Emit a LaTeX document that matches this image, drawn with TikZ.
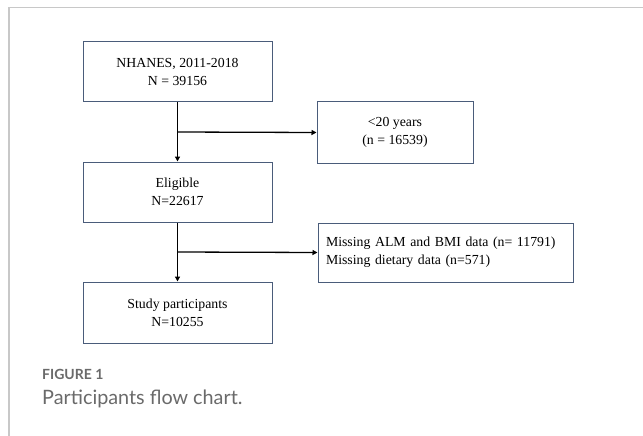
\documentclass[tikz,border=0pt]{standalone}
\usepackage{fontspec}
\setmainfont{Liberation Serif}
\newfontfamily\capfont{Lato}
\usetikzlibrary{arrows.meta}
\definecolor{boxline}{HTML}{4A5C7A}
\definecolor{framegray}{HTML}{C8C8C8}
\definecolor{capgray}{HTML}{6A6A6A}
\tikzset{
  flowbox/.style={draw=boxline, line width=1pt, rectangle, align=center, inner sep=0pt,
    font=\fontsize{13.8}{18}\selectfont, text=black},
  conn/.style={line width=1.3pt, -{Triangle[length=5pt,width=5pt]}},
}
\begin{document}
\begin{tikzpicture}[x=1pt,y=-1pt]
\useasboundingbox (0,0) rectangle (643,436);
\fill[white] (0,0) rectangle (643,436);
% frame
\draw[framegray, line width=1.5pt] (9,436) -- (9,7.5) -- (643,7.5);
% boxes
\node[flowbox, minimum width=189pt, minimum height=60pt] (b1) at (177.5,72) {NHANES, 2011-2018\\N = 39156};
\node[flowbox, minimum width=156pt, minimum height=61pt] (b2) at (395,132.5) {<20 years\\(n = 16539)};
\node[flowbox, minimum width=189pt, minimum height=60pt] (b3) at (177.5,192) {Eligible\\N=22617};
\node[flowbox, minimum width=255pt, minimum height=59pt, align=left, text width=239pt, inner xsep=8pt] (b4) at (445.5,252.5) {Missing ALM and BMI data (n= 11791)\\Missing dietary data (n=571)};
\node[flowbox, minimum width=189pt, minimum height=61pt] (b5) at (177.5,312.5) {Study participants\\N=10255};
% connectors
\coordinate (j1) at (177.5,132);
\coordinate (j2) at (177.5,252);
\draw[conn] (b1.south) -- (b3.north);
\draw[conn] (j1) -- (b2.west);
\draw[conn] (b3.south) -- (b5.north);
\draw[conn] (j2) -- (b4.west);
% caption
\node[anchor=base west, inner sep=0pt, text=capgray, font=\capfont\bfseries\fontsize{14}{16}\selectfont] (fig) at (42,379) {FIGURE 1};
\node[anchor=base west, inner sep=0pt, text=capgray, font=\capfont\fontsize{19.8}{22}\selectfont] (cap) at (42,404) {Participants flow chart.};
\end{tikzpicture}
\end{document}
